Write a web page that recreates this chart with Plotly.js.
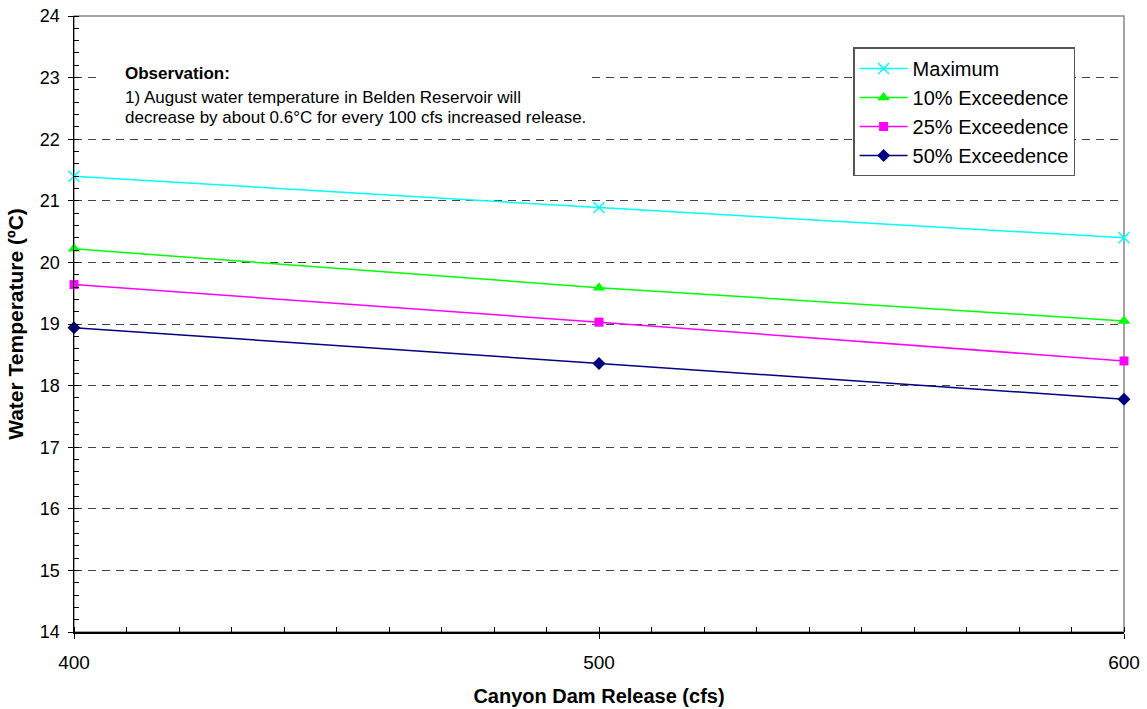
<!DOCTYPE html>
<html><head><meta charset="utf-8">
<script src="https://cdn.plot.ly/plotly-3.0.1.min.js"></script>
<style>body{margin:0;background:#fff}#c{width:1147px;height:709px}</style>
</head><body><div id="c"></div>
<script>
var releases = [400, 500, 600];
var seriesNames = ["Maximum", "10% Exceedence", "25% Exceedence", "50% Exceedence"];
var maximum = [21.40, 20.89, 20.40];
var exc10 = [20.22, 19.59, 19.05];
var exc25 = [19.64, 19.03, 18.40];
var exc50 = [18.94, 18.36, 17.78];
var xTicks = [400, 500, 600];
var yTicks = [14, 15, 16, 17, 18, 19, 20, 21, 22, 23, 24];

var styles = [
  {color: "#00FFFF", symbol: "x-thin", size: 11, lw: 1.5},
  {color: "#00FF00", symbol: "triangle-up", size: 11},
  {color: "#FF00FF", symbol: "square", size: 9},
  {color: "#000080", symbol: "diamond", size: 10}
];
var vals = [maximum, exc10, exc25, exc50];
var traces = vals.map(function(v, i){
  var s = styles[i];
  return {
    x: releases, y: v, name: seriesNames[i], type: "scatter", mode: "lines+markers",
    cliponaxis: false,
    line: {color: s.color, width: 1.5},
    marker: {color: s.color, symbol: s.symbol, size: s.size, line: {color: s.color, width: s.lw || 0}}
  };
});

var font = "Arial, 'Liberation Sans', sans-serif";
var layout = {
  width: 1147, height: 709,
  margin: {l: 74, r: 23, t: 16, b: 77},
  paper_bgcolor: "#fff", plot_bgcolor: "#fff",
  font: {family: font, color: "#000"},
  showlegend: true,
  legend: {x: 0.742, y: 0.949, xanchor: "left", yanchor: "top",
    bgcolor: "#fff", bordercolor: "#555", borderwidth: 1.5, itemwidth: 48,
    font: {family: font, size: 20, color: "#000"}, tracegroupgap: 0},
  xaxis: {
    range: [400, 600], tickvals: xTicks, ticktext: xTicks.map(String),
    showgrid: false, zeroline: false, showline: true, linecolor: "#000", linewidth: 1.5,
    ticks: "outside", ticklen: 5, tickcolor: "#000", tickwidth: 1,
    minor: {dtick: 10, ticks: "inside", ticklen: 5, tickcolor: "#000", tickwidth: 1, showgrid: false},
    tickfont: {size: 19, family: font}, ticklabelstandoff: 8,
    title: {text: "<b>Canyon Dam Release (cfs)</b>", font: {size: 20, family: font}, standoff: 16}
  },
  yaxis: {
    range: [14, 24], tickvals: yTicks, ticktext: yTicks.map(String),
    showgrid: true, gridcolor: "#444", griddash: "8px,6px", gridwidth: 1,
    zeroline: false, showline: true, linecolor: "#000", linewidth: 1.5,
    ticks: "outside", ticklen: 5, tickcolor: "#000", tickwidth: 1,
    minor: {dtick: 0.2, ticks: "inside", ticklen: 5, tickcolor: "#000", tickwidth: 1, showgrid: false},
    tickfont: {size: 18, family: font}, ticklabelstandoff: 4,
    title: {text: "<b>Water Temperature (ºC)</b>", font: {size: 21, family: font}, standoff: 10}
  },
  shapes: [
    {type: "rect", xref: "paper", yref: "paper", x0: 0, x1: 1, y0: 0, y1: 1,
     line: {color: "#888", width: 1.5}, layer: "below"}
  ],
  annotations: [
    {xref: "paper", yref: "paper", x: 0.025, y: 0.925, xanchor: "left", yanchor: "top",
     showarrow: false, text: " ", width: 485, height: 66, bgcolor: "#fff"},
    {xref: "paper", yref: "paper", x: 0.0467, y: 0.907, xanchor: "left", yanchor: "middle",
     showarrow: false, text: "<b>Observation:</b>", font: {size: 17, family: font}},
    {xref: "paper", yref: "paper", x: 0.0467, y: 0.868, xanchor: "left", yanchor: "middle",
     showarrow: false, text: "1) August water temperature in Belden Reservoir will", font: {size: 17, family: font}},
    {xref: "paper", yref: "paper", x: 0.0467, y: 0.836, xanchor: "left", yanchor: "middle",
     showarrow: false, text: "decrease by about 0.6°C for every 100 cfs increased release.", font: {size: 17, family: font}}
  ]
};
Plotly.newPlot("c", traces, layout, {displayModeBar: false, staticPlot: true});
</script></body></html>
